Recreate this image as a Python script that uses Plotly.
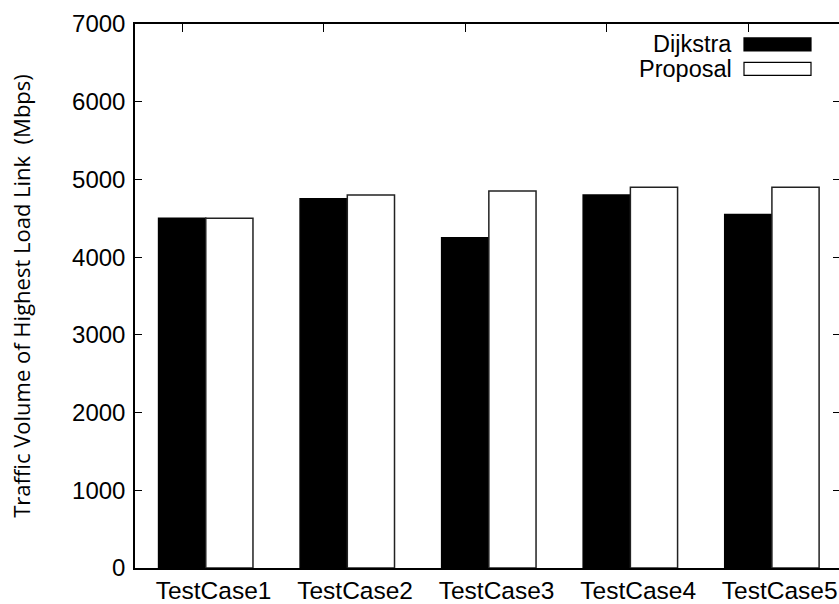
import plotly.graph_objects as go

categories = ["TestCase1", "TestCase2", "TestCase3", "TestCase4", "TestCase5"]
dijkstra = [4500, 4750, 4250, 4800, 4550]
proposal = [4500, 4800, 4850, 4900, 4900]
y_ticks = [0, 1000, 2000, 3000, 4000, 5000, 6000, 7000]

xpos = list(range(len(categories)))

W, H = 839, 604
L, R, T, B = 135, 0, 24, 604 - 570

fig = go.Figure()
fig.add_trace(go.Bar(x=xpos, y=dijkstra, name="Dijkstra",
                     marker=dict(color="black", line=dict(color="black", width=1.5))))
fig.add_trace(go.Bar(x=xpos, y=proposal, name="Proposal",
                     marker=dict(color="white", line=dict(color="#222", width=1.5))))

xr = [-0.5, 4.474]
fig.update_layout(
    width=W, height=H,
    margin=dict(l=L, r=R, t=T, b=B),
    paper_bgcolor="white", plot_bgcolor="white",
    barmode="group", bargap=0.333, bargroupgap=0,
    showlegend=False,
    font=dict(family="Liberation Sans, Arial", color="black", size=24),
    xaxis=dict(range=xr, tickmode="array",
               tickvals=[p + 0.055 for p in xpos], ticktext=categories,
               ticks="", showline=True, linecolor="black", linewidth=1.5,
               showgrid=False, zeroline=False, tickfont=dict(size=24.5)),
    xaxis2=dict(range=xr, overlaying="x", side="top", anchor="y",
                tickmode="array", tickvals=[p - 0.167 for p in xpos],
                ticks="inside", ticklen=8, tickcolor="black", tickwidth=1.2,
                showticklabels=False, showline=True, linecolor="black",
                linewidth=1.5, showgrid=False, zeroline=False),
    yaxis=dict(range=[0, 7000], tickmode="array", tickvals=y_ticks,
               ticks="inside", ticklen=7, tickcolor="black", tickwidth=1.2,
               showline=True, linecolor="black", linewidth=1.5,
               showgrid=False, zeroline=False, tickfont=dict(size=24),
               ticklabelstandoff=3,
               title=dict(text="Traffic Volume of Highest Load Link  (Mbps)",
                          font=dict(family="Open Sans", size=22), standoff=35)),
    yaxis2=dict(range=[0, 7000], overlaying="y", side="right", anchor="x",
                tickmode="array", tickvals=y_ticks[1:-1],
                ticks="inside", ticklen=6, tickcolor="black", tickwidth=1.2,
                showticklabels=False, showline=False, showgrid=False,
                zeroline=False),
)
fig.add_trace(go.Scatter(x=[None], y=[None], xaxis="x2", yaxis="y2",
                         showlegend=False, hoverinfo="skip"))

pw = W - L - R
ph = H - T - B
def px(x):
    return (x - L) / pw
def py(y):
    return 1 - (y - T) / ph

legend_rows = [("Dijkstra", "black", 44.5), ("Proposal", "white", 69)]
for name, fill, yc in legend_rows:
    fig.add_annotation(x=px(734), y=py(yc), xref="paper", yref="paper",
                       text=name, showarrow=False, xanchor="right",
                       yanchor="middle", font=dict(size=23.5))
    fig.add_shape(type="rect", xref="paper", yref="paper",
                  x0=px(744), x1=px(811), y0=py(yc - 6.5), y1=py(yc + 6.5),
                  fillcolor=fill, line=dict(color="black", width=1.2))

fig.write_html("out.html",
               config={"displayModeBar": False},
               post_script="document.body.style.margin='0px';document.body.style.overflow='hidden';")
